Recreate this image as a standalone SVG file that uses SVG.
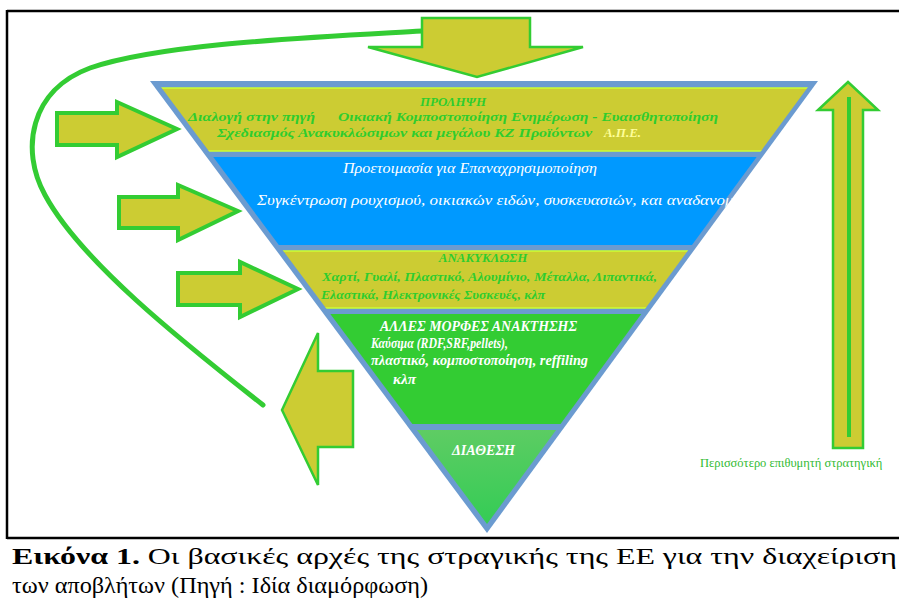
<svg xmlns="http://www.w3.org/2000/svg" width="899" height="607" viewBox="0 0 899 607">
<defs>
<style>
.frame{stroke:#000;stroke-width:2.5;fill:none}
.arr{fill:#cccc33;stroke:#33cc33;stroke-width:4;stroke-linejoin:miter}
.arrthin{fill:#cccc33;stroke:#33cc33;stroke-width:2.5}
.loop{fill:none;stroke:#33cc33;stroke-width:5;stroke-linecap:round}
.olive{fill:#cccc33;stroke:#ccff33;stroke-width:1.5}
.gt{font-family:"Liberation Serif","DejaVu Serif",serif;font-style:italic;font-size:13px;fill:#2ecc2e;font-weight:bold}
.wt{font-family:"Liberation Serif","DejaVu Serif",serif;font-style:italic;font-size:14px;fill:#ffffff}
.cap{font-family:"Liberation Serif","DejaVu Serif",serif;font-size:24px;fill:#000}
.st{font-family:"Liberation Serif","DejaVu Serif",serif;font-size:12.5px;fill:#33bb33}
</style>
<clipPath id="inner"><polygon points="161,87 808,87 487,524"/></clipPath>
<clipPath id="outer"><polygon points="150,81 818,81 487,533"/></clipPath>
<linearGradient id="g5" x1="0" y1="0" x2="0.4" y2="1">
<stop offset="0" stop-color="#66cc66"/>
<stop offset="1" stop-color="#33cc55"/>
</linearGradient>
</defs>
<rect width="899" height="607" fill="#fff"/>
<g id="frame">
<line class="frame" x1="7" y1="11" x2="899" y2="11"/>
<line class="frame" x1="7" y1="10" x2="7" y2="539"/>
<line class="frame" x1="7" y1="538" x2="899" y2="538"/>
</g>
<g id="connectors">
<path class="loop" d="M 422,31 C 300,38 160,44 90,68 C 30,90 20,150 45,195 C 80,260 180,340 263,405"/>
</g>
<g id="top-arrow"><polygon class="arrthin" points="422,18 530,18 530,47 583,47 477,77 368,47 422,47"/></g>
<g id="arrow-1"><polygon class="arr" points="57,113 117,113 117,102 177,129 117,157 117,145 57,145"/></g>
<g id="arrow-2"><polygon class="arr" points="119,197 178,197 178,185 238,211 178,240 178,228 119,228"/></g>
<g id="arrow-3"><polygon class="arr" points="178,273 240,273 240,262 298,289 240,317 240,305 178,305"/></g>
<g id="arrow-back"><polygon class="arrthin" points="282,410 318,333 318,371 353,371 353,447 318,447 318,485"/></g>
<g id="pyramid">
<polygon points="150,81 818,81 487,533" fill="#6b9bd0"/>
<g clip-path="url(#inner)">
<rect class="olive" x="150" y="88" width="670" height="63"/>
<rect x="150" y="157" width="670" height="88" fill="#0099ff"/>
<rect class="olive" x="150" y="251" width="670" height="57"/>
<rect x="150" y="314" width="670" height="110" fill="#33cc33"/>
<rect x="150" y="430" width="670" height="100" fill="url(#g5)"/>
</g>
</g>
<g id="band-prolipsi">
<text class="gt" x="453" y="106" text-anchor="middle">ΠΡΟΛΗΨΗ</text>
<text class="gt" x="188" y="121" textLength="127" lengthAdjust="spacingAndGlyphs">Διαλογή στην πηγή</text>
<text class="gt" x="338" y="121" textLength="380" lengthAdjust="spacingAndGlyphs">Οικιακή Κομποστοποίηση Ενημέρωση - Ευαισθητοποίηση</text>
<text class="gt" x="217" y="137" textLength="375" lengthAdjust="spacingAndGlyphs">Σχεδιασμός Ανακυκλώσιμων και μεγάλου ΚΖ Προϊόντων</text>
<text class="gt" x="604" y="137" textLength="37" lengthAdjust="spacingAndGlyphs" style="fill:#ffff99">Α.Π.Ε.</text>
</g>
<g id="band-epanaxrisi">
<text class="wt" x="343" y="173" textLength="254" lengthAdjust="spacingAndGlyphs">Προετοιμασία για Επαναχρησιμοποίηση</text>
<g clip-path="url(#outer)">
<text class="wt" x="257" y="205" textLength="485" lengthAdjust="spacingAndGlyphs">Συγκέντρωση ρουχισμού, οικιακών ειδών, συσκευασιών, και αναδανομή</text>
</g>
</g>
<g id="band-anakyklosi">
<text class="gt" x="483" y="262" text-anchor="middle">ΑΝΑΚΥΚΛΩΣΗ</text>
<text class="gt" x="322" y="281" textLength="335" lengthAdjust="spacingAndGlyphs">Χαρτί, Γυαλί, Πλαστικό, Αλουμίνιο, Μέταλλα, Λιπαντικά,</text>
<text class="gt" x="321" y="299" textLength="224" lengthAdjust="spacingAndGlyphs">Ελαστικά, Ηλεκτρονικές Συσκευές, κλπ</text>
</g>
<g id="band-anaktisi">
<text class="wt" x="380" y="331" textLength="197" lengthAdjust="spacingAndGlyphs" font-weight="bold">ΑΛΛΕΣ ΜΟΡΦΕΣ ΑΝΑΚΤΗΣΗΣ</text>
<text class="wt" x="371" y="348" textLength="137" lengthAdjust="spacingAndGlyphs" font-weight="bold">Καύσιμα (RDF,SRF,pellets),</text>
<text class="wt" x="371" y="365" textLength="217" lengthAdjust="spacingAndGlyphs" font-weight="bold">πλαστικό, κομποστοποίηση, reffiling</text>
<text class="wt" x="393" y="384" textLength="23" lengthAdjust="spacingAndGlyphs" font-weight="bold">κλπ</text>
</g>
<g id="band-diathesi">
<text class="wt" x="452" y="455" textLength="63" lengthAdjust="spacingAndGlyphs" font-weight="bold">ΔΙΑΘΕΣΗ</text>
</g>
<g id="strategy-arrow">
<polygon class="arrthin" points="848,82 878,110 863,110 863,448 833,448 833,110 818,110"/>
<line x1="849" y1="97" x2="849" y2="437" stroke="#33cc33" stroke-width="4"/>
<text class="st" x="700" y="467">Περισσότερο επιθυμητή στρατηγική</text>
</g>
<g id="caption">
<text class="cap" x="12" y="564" textLength="885" lengthAdjust="spacingAndGlyphs"><tspan font-weight="bold">Εικόνα 1.</tspan> Οι βασικές αρχές της στραγικής της ΕΕ για την διαχείριση</text>
<text class="cap" x="12" y="593" textLength="416" lengthAdjust="spacingAndGlyphs">των αποβλήτων (Πηγή : Ιδία διαμόρφωση)</text>
</g>
</svg>
